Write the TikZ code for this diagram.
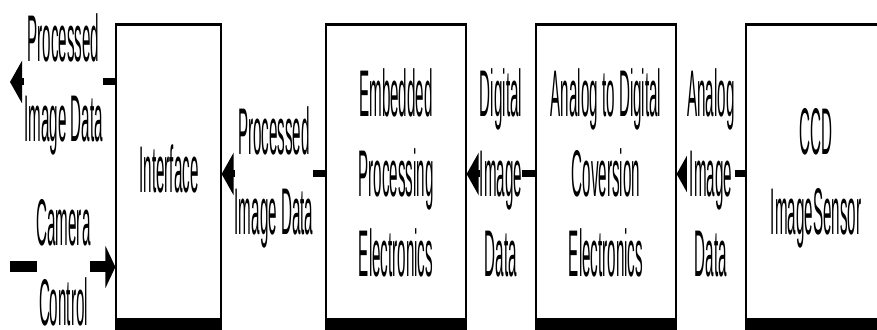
\documentclass[tikz,border=0pt]{standalone}
\usepackage{fontspec}
\newfontfamily\narrowsans{Liberation Sans}[FakeStretch=0.23]
\usetikzlibrary{arrows.meta}

\begin{document}
\begin{tikzpicture}[x=1pt,y=1pt,
  box/.style={draw, line width=1.2pt, minimum height=298pt, inner sep=0pt},
  lbl/.style={font=\narrowsans\fontsize{66}{80}\selectfont, align=center, inner sep=0pt},
  tag/.style={lbl, fill=white},
  flow/.style={line width=7pt, -{Triangle[length=12pt,width=42pt]}},
  ctrl/.style={line width=11pt, -{Triangle[length=10pt,width=42pt]}},
  topedge/.style={line width=3pt},
]
\useasboundingbox (0,0) rectangle (877,329);
\clip (0,0) rectangle (877,329);

% processing blocks
\node[box, minimum width=105pt] (iface) at (168.5,155) {};
\node[box, minimum width=140pt] (embed) at (396,155) {};
\node[box, minimum width=140pt] (adc)   at (606,155) {};
\node[box, minimum width=140pt] (ccd)   at (816,155) {};

% heavy top and bottom edges of each block
\foreach \b in {iface,embed,adc,ccd}{
  \draw[topedge] (\b.north west) -- (\b.north east);
  \fill ([yshift=6pt]\b.south west) rectangle ([yshift=-6pt]\b.south east);
}

% block titles
\node[lbl] (iface-t) at (169,152) {\strut Interface};
\node[lbl] (embed-t) at (396,148) {\strut Embedded\\\strut Processing\\\strut Electronics};
\node[lbl] (adc-t)   at (606,148) {\strut Analog to Digital\\\strut Coversion\\\strut Electronics};
\node[lbl] (ccd-t)   at (816,150) {\strut CCD\\\strut ImageSensor};

% signal paths
\coordinate (out) at (10,247);
\coordinate (cam) at (10,62);
\draw[flow] (iface.west |- out) -- (out);
\draw[ctrl] (cam) -- (cam -| iface.west);
\draw[flow] (embed.west) -- (iface.east);
\draw[flow] (adc.west) -- (embed.east);
\draw[flow] (ccd.west) -- (adc.east);

% signal names, set over the paths
\node[tag] (out-t) at (63.5,243) {\strut Processed\\\strut Image Data};
\node[tag] (cam-t) at (63.5,60)  {\strut Camera\\\strut Control};
\node[tag] (mid-t) at (274,150)  {\strut Processed\\\strut Image Data};
\node[tag] (dig-t) at (501,148)  {\strut Digital\\\strut Image\\\strut Data};
\node[tag] (ana-t) at (711,148)  {\strut Analog\\\strut Image\\\strut Data};
\end{tikzpicture}
\end{document}
